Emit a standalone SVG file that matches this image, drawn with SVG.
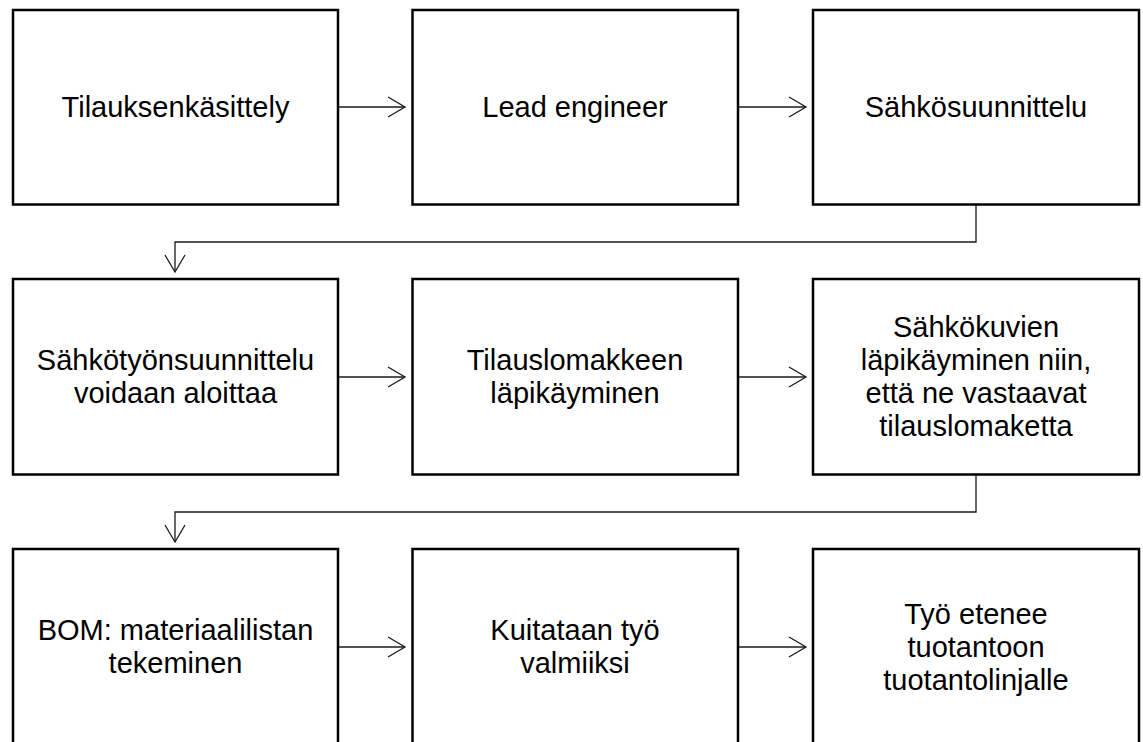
<svg xmlns="http://www.w3.org/2000/svg" width="1143" height="742" viewBox="0 0 1143 742">
<defs>
<marker id="arr" markerUnits="userSpaceOnUse" markerWidth="40" markerHeight="40" viewBox="-20 -20 40 40" refX="0" refY="0" orient="auto">
<path d="M-17,-10 L0,0 L-17,10" fill="none" stroke="#1a1a1a" stroke-width="1.3"/>
</marker>
</defs>
<style>
.box{fill:#ffffff;stroke:#000000;stroke-width:2.5}
.lbl{font-family:"Liberation Sans",Arial,sans-serif;font-size:29px;fill:#000000;text-anchor:middle}
.con{fill:none;stroke:#1a1a1a;stroke-width:1.3;marker-end:url(#arr)}
</style>
<rect width="1143" height="742" fill="#ffffff"/>
<g id="n1"><rect class="box" x="13" y="10" width="325" height="194.5"/><text class="lbl" x="175.5" y="117">Tilauksenkäsittely</text></g>
<g id="n2"><rect class="box" x="412.5" y="10" width="325.5" height="194.5"/><text class="lbl" x="575" y="117">Lead engineer</text></g>
<g id="n3"><rect class="box" x="813" y="10" width="326" height="194.5"/><text class="lbl" x="976" y="117">Sähkösuunnittelu</text></g>
<g id="n4"><rect class="box" x="13" y="279" width="325" height="195.5"/><text class="lbl" x="175.5" y="370">Sähkötyönsuunnittelu</text><text class="lbl" x="175.5" y="403">voidaan aloittaa</text></g>
<g id="n5"><rect class="box" x="412.5" y="279" width="325.5" height="195.5"/><text class="lbl" x="575" y="370">Tilauslomakkeen</text><text class="lbl" x="575" y="403">läpikäyminen</text></g>
<g id="n6"><rect class="box" x="813" y="279" width="326" height="195.5"/><text class="lbl" x="976" y="337">Sähkökuvien</text><text class="lbl" x="976" y="370">läpikäyminen niin,</text><text class="lbl" x="976" y="403">että ne vastaavat</text><text class="lbl" x="976" y="436">tilauslomaketta</text></g>
<g id="n7"><rect class="box" x="13" y="549" width="325" height="196"/><text class="lbl" x="175.5" y="640">BOM: materiaalilistan</text><text class="lbl" x="175.5" y="673">tekeminen</text></g>
<g id="n8"><rect class="box" x="412.5" y="549" width="325.5" height="196"/><text class="lbl" x="575" y="640">Kuitataan työ</text><text class="lbl" x="575" y="673">valmiiksi</text></g>
<g id="n9"><rect class="box" x="813" y="549" width="326" height="196"/><text class="lbl" x="976" y="624">Työ etenee</text><text class="lbl" x="976" y="657">tuotantoon</text><text class="lbl" x="976" y="690">tuotantolinjalle</text></g>
<g id="connectors">
<path class="con" d="M339,107 L405,107"/>
<path class="con" d="M739,107 L806,107"/>
<path class="con" d="M976,205 L976,242 L175,242 L175,272"/>
<path class="con" d="M339,377 L405,377"/>
<path class="con" d="M739,377 L806,377"/>
<path class="con" d="M976,475 L976,512 L175,512 L175,542"/>
<path class="con" d="M339,647 L405,647"/>
<path class="con" d="M739,647 L806,647"/>
</g>
</svg>
